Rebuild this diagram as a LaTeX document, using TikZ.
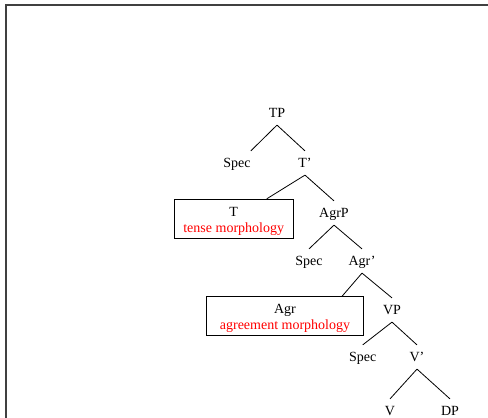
\documentclass[tikz,border=0pt]{standalone}
\usepackage{fontspec}
\setmainfont{Liberation Serif}
\definecolor{morphred}{rgb}{1,0,0}
\definecolor{framegray}{rgb}{.25,.25,.25}
\usetikzlibrary{positioning}

\begin{document}
\begin{tikzpicture}[
    x=1pt, y=-1pt, on grid,
    cat/.style={font=\fontsize{14}{16}\selectfont, inner xsep=0pt, inner ysep=4.4pt,
                text height=12pt, text depth=3pt},
    morph/.style={draw, line width=0.8pt, font=\fontsize{14}{16}\selectfont,
                  align=center, text height=30pt, text depth=2.5pt,
                  minimum height=37.7pt},
    branch/.style={line width=0.8pt},
    frame/.style={framegray, line width=1.5pt}
  ]
    \useasboundingbox (0,0) rectangle (488,418);
    \draw[frame] (488,5) -| (6,418);

    \node[cat]   (tp)     at (277,113)                          {TP};
    \node[cat]   (spec1)  [below left=50pt and 40pt of tp]      {Spec};
    \node[cat]   (tbar)   [below right=50pt and 28pt of tp]     {T'};
    \node[morph, minimum width=119.3pt] (tbox)
                          [below left=55.8pt and 71.3pt of tbar]
                          {T\\\textcolor{morphred}{tense morphology}};
    \node[cat]   (agrp)   [below right=50pt and 29pt of tbar]   {AgrP};
    \node[cat]   (spec2)  [below left=48pt and 25pt of agrp]    {Spec};
    \node[cat]   (agrbar) [below right=48pt and 28pt of agrp]   {Agr'};
    \node[morph, minimum width=156.6pt] (agrbox)
                          [below left=55.2pt and 77pt of agrbar]
                          {Agr\\\textcolor{morphred}{agreement morphology}};
    \node[cat]   (vp)     [below right=49pt and 30pt of agrbar] {VP};
    \node[cat]   (spec3)  [below left=47pt and 29.3pt of vp]    {Spec};
    \node[cat]   (vbar)   [below right=47pt and 25pt of vp]     {V'};
    \node[cat]   (v)      [below left=54pt and 27pt of vbar]    {V};
    \node[cat]   (dp)     [below right=54pt and 33pt of vbar]   {DP};

    \draw[branch] (tp.south)     -- (spec1.north east);
    \draw[branch] (tp.south)     -- (tbar.north);
    \draw[branch] (tbar.south)   -- ([xshift=-27pt]tbox.north east);
    \draw[branch] (tbar.south)   -- (agrp.north);
    \draw[branch] (agrp.south)   -- (spec2.north);
    \draw[branch] (agrp.south)   -- (agrbar.north);
    \draw[branch] (agrbar.south) -- ([xshift=-21.6pt]agrbox.north east);
    \draw[branch] (agrbar.south) -- (vp.north);
    \draw[branch] (vp.south)     -- (spec3.north);
    \draw[branch] (vp.south)     -- (vbar.north);
    \draw[branch] (vbar.south)   -- (v.north);
    \draw[branch] (vbar.south)   -- (dp.north);
  \end{tikzpicture}
\end{document}
